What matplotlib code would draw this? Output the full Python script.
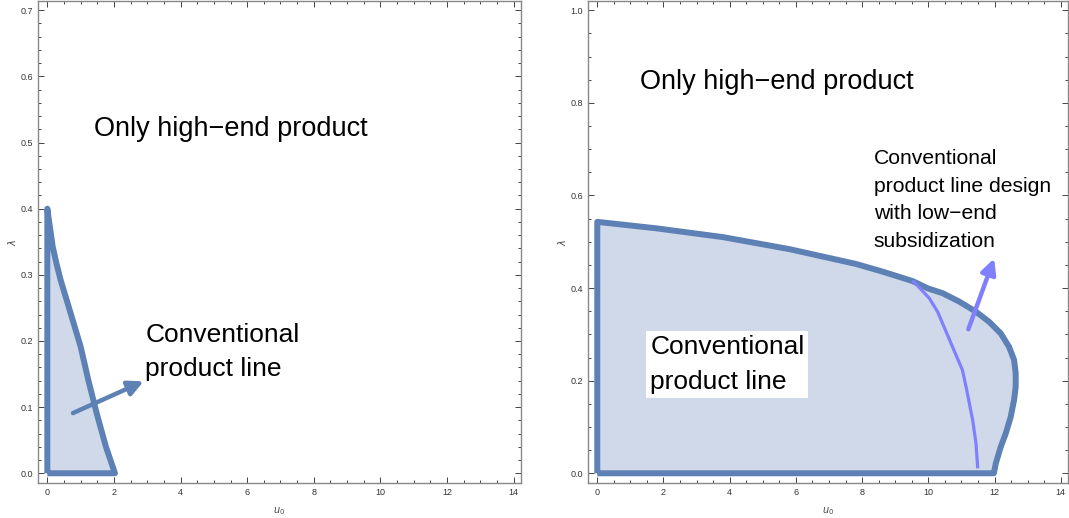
import numpy as np
import matplotlib.pyplot as plt
from matplotlib.ticker import MultipleLocator

plt.rcParams['font.family'] = ['Liberation Sans', 'DejaVu Sans']

# Frontera superior de la línea de producto convencional (panel izquierdo)
u_izq = [0.0, 0.04, 0.09, 0.16, 0.27, 0.40, 0.55, 0.70, 1.00, 1.23, 1.48, 1.76, 2.03]
lam_izq = [0.400, 0.385, 0.368, 0.343, 0.318, 0.292, 0.267, 0.242, 0.1915, 0.141, 0.091, 0.040, 0.0]

# Frontera superior (panel derecho)
u_der = [0.0, 1.79, 3.80, 5.81, 7.82, 8.62, 9.53, 9.98, 10.43, 10.93, 11.44, 11.84,
         12.19, 12.44, 12.59, 12.64, 12.64, 12.59, 12.49, 12.34, 12.19, 12.04, 11.98]
lam_der = [0.543, 0.529, 0.510, 0.484, 0.452, 0.4355, 0.415, 0.3995, 0.389, 0.371, 0.349, 0.327,
           0.302, 0.273, 0.245, 0.216, 0.187, 0.158, 0.122, 0.086, 0.0575, 0.0216, 0.0]

# Frontera del subsidio al producto de gama baja
u_sub = [9.56, 10.03, 10.28, 11.03, 11.14, 11.34, 11.44, 11.49]
lam_sub = [0.414, 0.378, 0.349, 0.223, 0.187, 0.115, 0.065, 0.014]

# Flechas (cola, punta)
flecha_izq = [(0.77, 0.091), (2.89, 0.139)]
flecha_der = [(11.21, 0.311), (11.99, 0.464)]

azul = '#5E81B5'
relleno = '#CFD9E9'
morado = '#8080FF'

fig = plt.figure(figsize=(10.69, 5.18), dpi=100)
ax1 = fig.add_axes([38 / 1069, 35 / 518, 483 / 1069, 482 / 518])
ax2 = fig.add_axes([588 / 1069, 35 / 518, 480 / 1069, 482 / 518])


# Dibuja la región sombreada y su contorno
def Region(ax, u, lam):
  ax.fill(list(u) + [0.0, 0.0], list(lam) + [0.0, lam[0]], color=relleno, lw=0)
  ax.plot([0.0, 0.0] + list(u) + [0.0], [0.0, lam[0]] + list(lam) + [0.0],
          color=azul, lw=4.3, solid_joinstyle='round', solid_capstyle='butt')


# Marco con marcas hacia dentro en los cuatro lados
def Marco(ax, ymax, ymin, may_y, min_y):
  ax.set_xlim(-0.28, 14.22)
  ax.set_ylim(ymin, ymax)
  ax.xaxis.set_major_locator(MultipleLocator(2))
  ax.xaxis.set_minor_locator(MultipleLocator(0.5))
  ax.yaxis.set_major_locator(MultipleLocator(may_y))
  ax.yaxis.set_minor_locator(MultipleLocator(min_y))
  ax.yaxis.set_major_formatter(lambda v, p: '%.1f' % v)
  ax.tick_params(which='both', direction='in', top=True, right=True,
                 labelsize=6.5, labelcolor='#333333', color='#444444', width=0.7)
  ax.tick_params(which='major', length=4)
  ax.tick_params(which='minor', length=2)
  for s in ax.spines.values():
    s.set_color('#888888')
    s.set_linewidth(1.0)
  ax.set_xlabel(r'$u_0$', fontsize=7, color='#444444', labelpad=6)
  ax.set_ylabel(r'$\lambda$', fontsize=7, color='#444444', labelpad=2)


flecha = '-|>,head_length=0.9,head_width=0.45'

# Panel izquierdo
Region(ax1, u_izq, lam_izq)
ax1.annotate('', xy=flecha_izq[1], xytext=flecha_izq[0],
             arrowprops=dict(arrowstyle=flecha, color=azul, lw=3.2, shrinkA=0, shrinkB=0))
ax1.text(1.4, 0.52, 'Only high\u2212end product', fontsize=19.5, va='center')
ax1.text(2.94, 0.183, 'Conventional\nproduct line', fontsize=19, va='center', linespacing=1.55)
Marco(ax1, 0.714, -0.0147, 0.1, 0.02)

# Panel derecho
Region(ax2, u_der, lam_der)
ax2.plot(u_sub, lam_sub, color=morado, lw=2.3, solid_joinstyle='round')
ax2.annotate('', xy=flecha_der[1], xytext=flecha_der[0],
             arrowprops=dict(arrowstyle=flecha, color=morado, lw=3.2, shrinkA=0, shrinkB=0))
ax2.text(1.3, 0.845, 'Only high\u2212end product', fontsize=19.5, va='center')
ax2.text(1.6, 0.235, 'Conventional\nproduct line', fontsize=19, va='center', linespacing=1.55,
         bbox=dict(facecolor='white', edgecolor='none', boxstyle='square,pad=0.15'))
ax2.text(8.35, 0.59, 'Conventional\nproduct line design\nwith low\u2212end\nsubsidization',
         fontsize=15.2, va='center', linespacing=1.56)
Marco(ax2, 1.02, -0.021, 0.2, 0.05)

fig.savefig('out.png', dpi=100)
